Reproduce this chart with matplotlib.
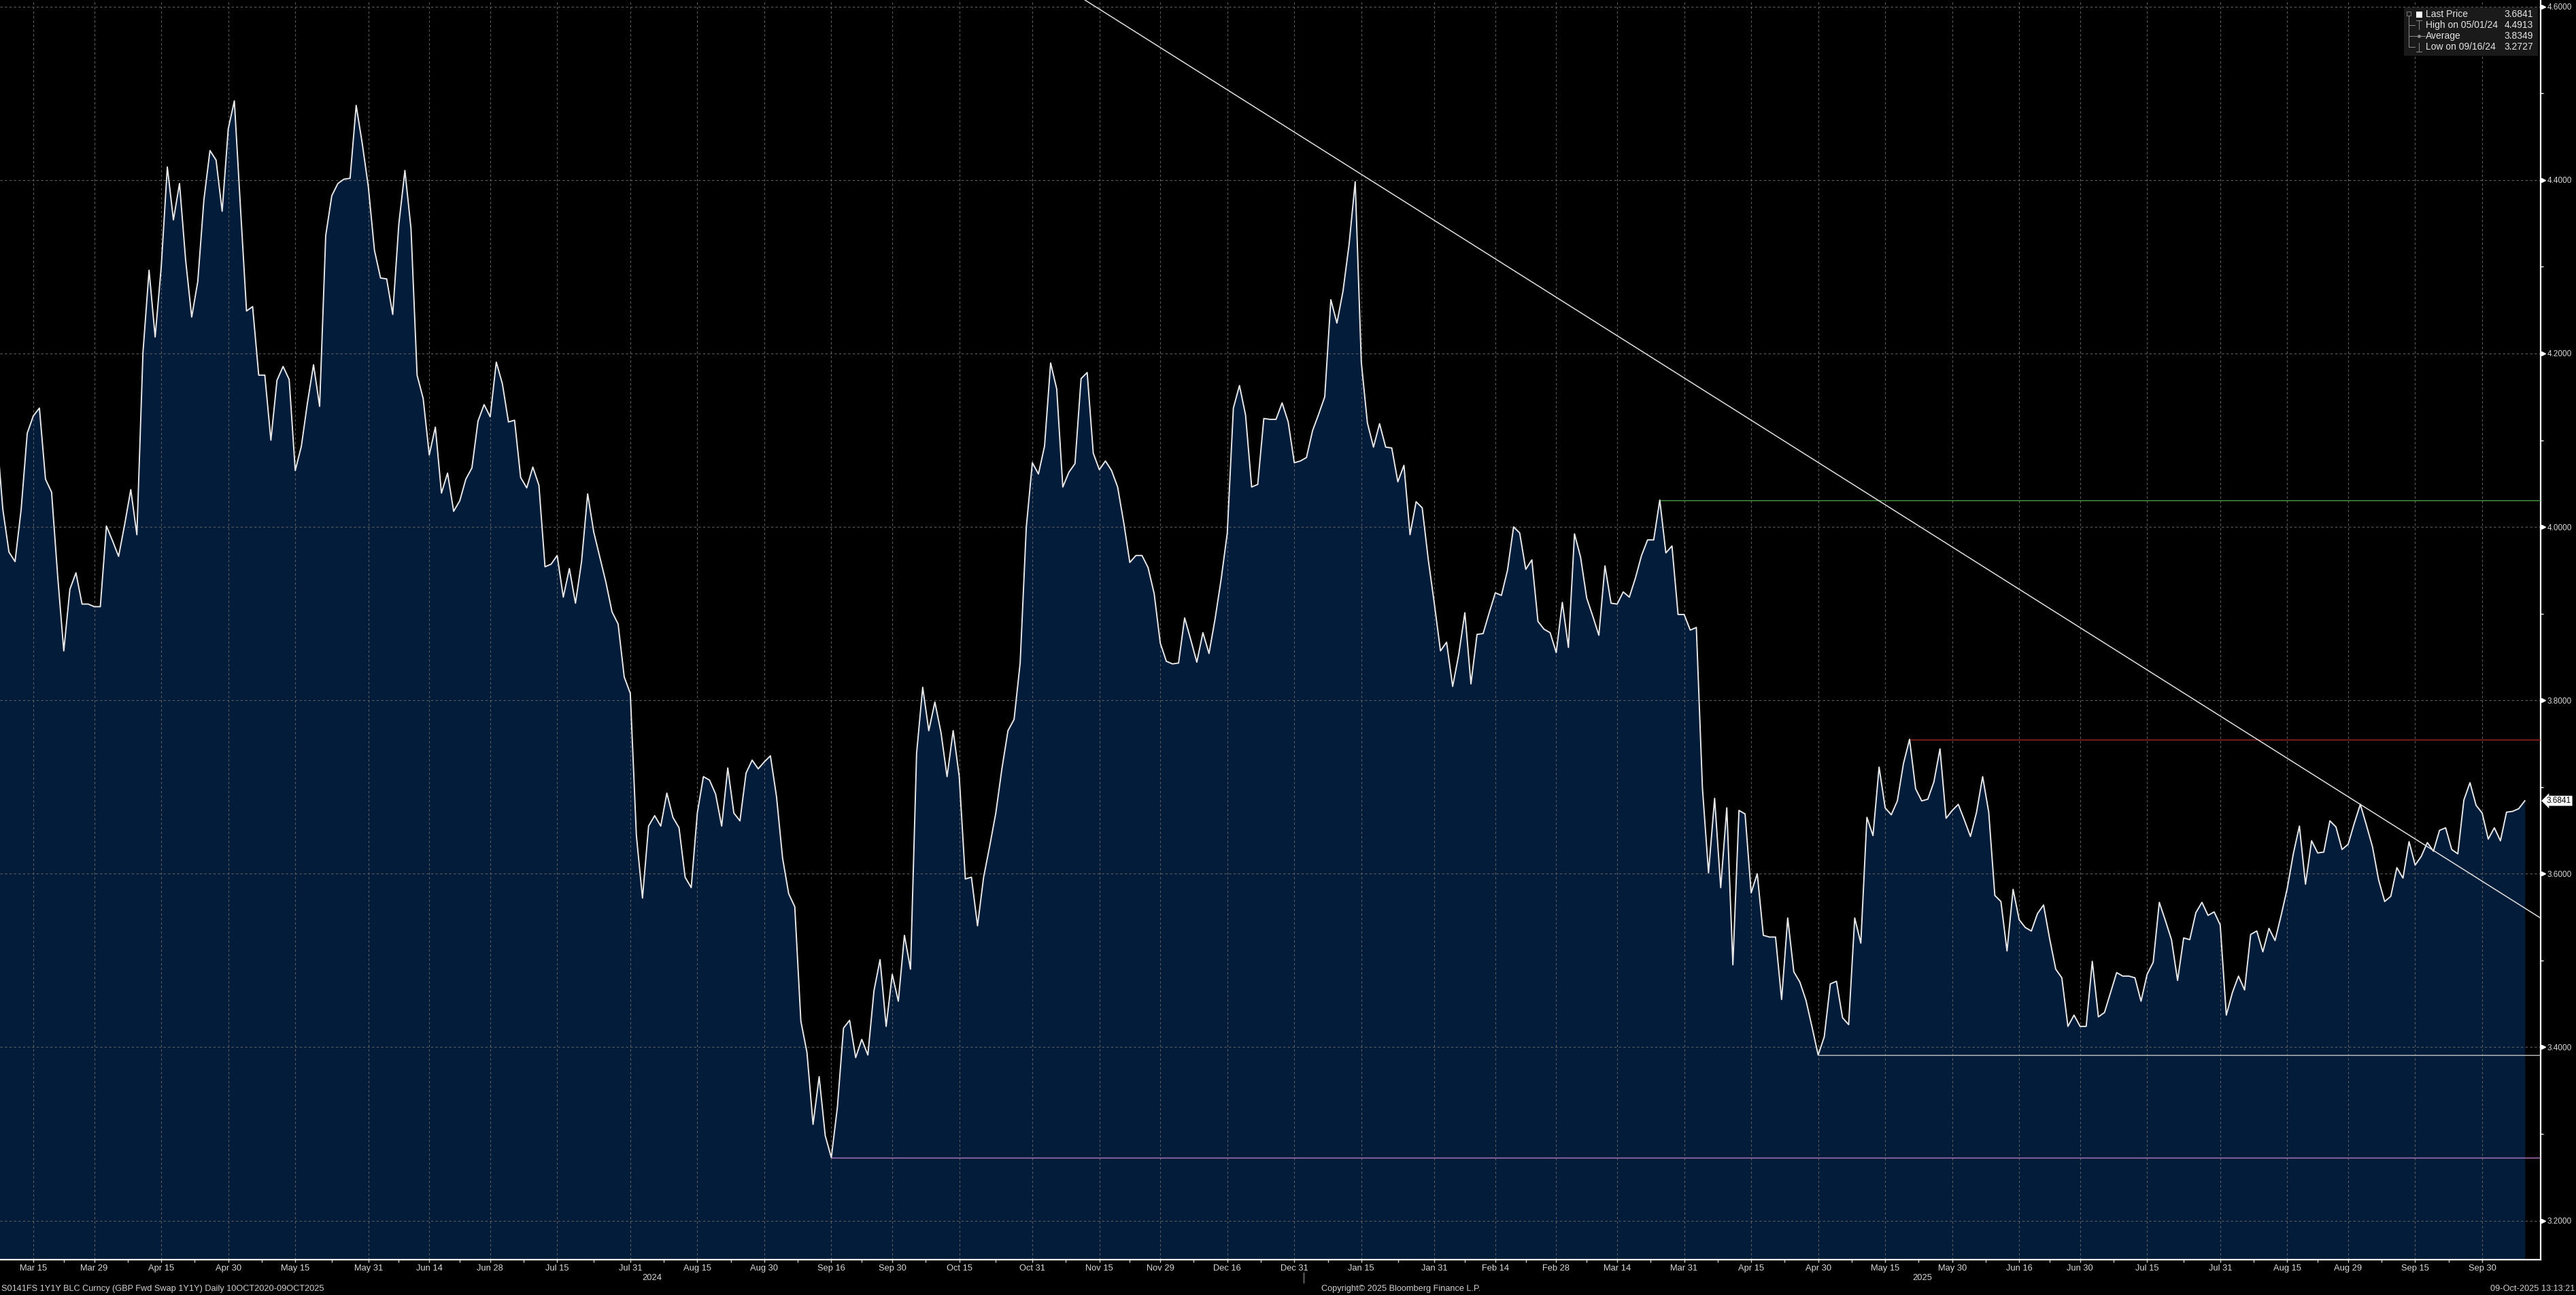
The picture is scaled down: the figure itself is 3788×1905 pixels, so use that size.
import numpy as np
import pandas as pd
import matplotlib
matplotlib.use('Agg')
import matplotlib.pyplot as plt
import matplotlib.transforms as mtransforms
from matplotlib.patches import Rectangle
from matplotlib.lines import Line2D

plt.rcParams['font.family'] = ['Liberation Sans', 'DejaVu Sans']

# GBP 1Y1Y forward swap, daily (business days) 07-Mar-2024 .. 09-Oct-2025
dates = pd.bdate_range('2024-03-07', '2025-10-09')

rates_mar_jul24 = [
    4.107,
    4.020, 3.971, 3.960, 4.020, 4.108, 4.128, 4.137, 4.055, 4.040, 3.943,
    3.857, 3.928, 3.947, 3.911, 3.911, 3.908, 3.908, 4.001, 3.984, 3.966,
    4.003, 4.043, 3.991, 4.201, 4.296, 4.219, 4.300, 4.415, 4.354, 4.396,
    4.308, 4.242, 4.283, 4.377, 4.434, 4.423, 4.364, 4.459, 4.4913, 4.369,
    4.249, 4.254, 4.175, 4.175, 4.100, 4.169, 4.185, 4.170, 4.065, 4.093,
    4.143, 4.187, 4.139, 4.336, 4.382, 4.396, 4.401, 4.402, 4.486, 4.442,
    4.392, 4.319, 4.287, 4.286, 4.245, 4.349, 4.411, 4.344, 4.175, 4.148,
    4.083, 4.115, 4.039, 4.062, 4.018, 4.030, 4.055, 4.068, 4.122, 4.141,
    4.127, 4.190, 4.165, 4.121, 4.123,
]
rates_jul_oct24 = [
    4.057, 4.045, 4.069, 4.048, 3.954,
    3.957, 3.967, 3.919, 3.952, 3.912, 3.960, 4.038, 3.994, 3.965, 3.936,
    3.902, 3.888, 3.827, 3.808, 3.644, 3.572, 3.655, 3.667, 3.655, 3.693,
    3.665, 3.653, 3.596, 3.584, 3.670, 3.712, 3.708, 3.692, 3.655, 3.722,
    3.670, 3.661, 3.716, 3.731, 3.721, 3.729, 3.736, 3.689, 3.618, 3.577,
    3.562, 3.430, 3.394, 3.311, 3.366, 3.298, 3.2727, 3.331, 3.422, 3.431,
    3.388, 3.409, 3.391, 3.465, 3.501, 3.424, 3.484, 3.453, 3.529, 3.490,
    3.739, 3.815, 3.765, 3.798, 3.763, 3.712, 3.765, 3.712, 3.594, 3.596,
    3.540, 3.596, 3.632, 3.670, 3.721, 3.765, 3.778, 3.843,
]
rates_oct24_feb25 = [
    3.999, 4.074,
    4.061, 4.093, 4.189, 4.159, 4.046, 4.063, 4.073, 4.171, 4.178, 4.085,
    4.066, 4.076, 4.065, 4.046, 4.005, 3.959, 3.967, 3.967, 3.953, 3.923,
    3.866, 3.845, 3.842, 3.843, 3.895, 3.870, 3.844, 3.878, 3.854, 3.894,
    3.940, 3.993, 4.137, 4.163, 4.129, 4.046, 4.049, 4.125, 4.124, 4.124,
    4.143, 4.121, 4.074, 4.076, 4.080, 4.111, 4.130, 4.150, 4.262, 4.235,
    4.272, 4.326, 4.398, 4.190, 4.120, 4.092, 4.119, 4.092, 4.091, 4.052,
    4.071, 3.991, 4.029, 4.022, 3.962, 3.911, 3.857, 3.867, 3.816, 3.853,
    3.901, 3.819, 3.876, 3.877, 3.901, 3.924, 3.921, 3.950, 4.000, 3.993,
    3.951, 3.962,
]
rates_feb_jun25 = [
    3.891, 3.882, 3.878, 3.855, 3.913, 3.861, 3.992, 3.965,
    3.918, 3.897, 3.875, 3.955, 3.912, 3.911, 3.925, 3.919, 3.941, 3.967,
    3.985, 3.985, 4.031, 3.970, 3.978, 3.899, 3.899, 3.881, 3.884, 3.699,
    3.601, 3.687, 3.584, 3.676, 3.495, 3.673, 3.669, 3.578, 3.600, 3.529,
    3.527, 3.527, 3.455, 3.549, 3.487, 3.475, 3.454, 3.423, 3.391, 3.412,
    3.473, 3.476, 3.434, 3.426, 3.549, 3.520, 3.665, 3.644, 3.723, 3.676,
    3.668, 3.684, 3.727, 3.755, 3.698, 3.684, 3.686, 3.706, 3.744, 3.664,
    3.673, 3.680, 3.662, 3.643, 3.671, 3.712, 3.671, 3.575, 3.568, 3.511,
    3.582, 3.547, 3.538, 3.534, 3.554, 3.564,
]
rates_jun_oct25 = [
    3.525, 3.490, 3.480, 3.424,
    3.437, 3.424, 3.424, 3.499, 3.435, 3.440, 3.463, 3.486, 3.482, 3.482,
    3.480, 3.453, 3.484, 3.498, 3.567, 3.546, 3.524, 3.477, 3.526, 3.524,
    3.555, 3.567, 3.552, 3.556, 3.541, 3.437, 3.463, 3.482, 3.466, 3.530,
    3.534, 3.510, 3.537, 3.523, 3.552, 3.583, 3.623, 3.655, 3.588, 3.638,
    3.624, 3.625, 3.661, 3.654, 3.628, 3.634, 3.658, 3.680, 3.656, 3.631,
    3.593, 3.568, 3.574, 3.607, 3.595, 3.637, 3.610, 3.620, 3.636, 3.626,
    3.650, 3.653, 3.628, 3.623, 3.685, 3.705, 3.679, 3.670, 3.640, 3.653,
    3.638, 3.671, 3.672, 3.675, 3.6841,
]
rates = np.array(rates_mar_jul24 + rates_jul_oct24 + rates_oct24_feb25
                 + rates_feb_jun25 + rates_jun_oct25)

tick_dates = ['2024-03-15', '2024-03-29', '2024-04-15', '2024-04-30', '2024-05-15',
              '2024-05-31', '2024-06-14', '2024-06-28', '2024-07-15', '2024-07-31',
              '2024-08-15', '2024-08-30', '2024-09-16', '2024-09-30', '2024-10-15',
              '2024-10-31', '2024-11-15', '2024-11-29', '2024-12-16', '2024-12-31',
              '2025-01-15', '2025-01-31', '2025-02-14', '2025-02-28', '2025-03-14',
              '2025-03-31', '2025-04-15', '2025-04-30', '2025-05-15', '2025-05-30',
              '2025-06-16', '2025-06-30', '2025-07-15', '2025-07-31', '2025-08-15',
              '2025-08-29', '2025-09-15', '2025-09-30']
y_major = [3.2, 3.4, 3.6, 3.8, 4.0, 4.2, 4.4, 4.6]
y_minor = [3.3, 3.5, 3.7, 3.9, 4.1, 4.3, 4.5]

# horizontal levels drawn from a given day to the right edge
level_dates = ['2024-09-16', '2025-03-25', '2025-04-30', '2025-05-21']
level_colors = ['#b47cc6', '#4a9e4a', '#c4c4c4', '#a82828']

# downward trend line anchors
trend_dates = ['2025-01-14', '2025-09-02']
trend_values = [4.411, 3.680]

legend_rows = [('Last Price', '3.6841'), ('High on 05/01/24', '4.4913'),
               ('Average', '3.8349'), ('Low on 09/16/24', '3.2727')]

W, H = 3788, 1905
def fx(px):
    return px / W
def fy(py):
    return 1 - py / H

x = np.arange(len(dates))
def pos(d):
    return dates.get_loc(pd.Timestamp(d))

fig = plt.figure(figsize=(W / 100, H / 100), dpi=100)
fig.patch.set_facecolor('black')
ax = fig.add_axes([0, 52 / H, 3736 / W, 1853 / H])
ax.set_facecolor('black')
xmax = 417.6
ax.set_xlim(0.53, xmax)
ax.set_ylim(3.155, 4.6076)

grid_kw = dict(color='#5e5e5e', lw=0.8, ls=(0, (3, 3)), zorder=2)
tick_x = [pos(d) for d in tick_dates]
for t in tick_x:
    ax.axvline(t, **grid_kw)
for v in y_major:
    ax.axhline(v, **grid_kw)

ax.fill_between(x, rates, 3.0, color='#021c3a', lw=0, zorder=1)
ax.plot(x, rates, color='#e8e8e8', lw=1.4, zorder=5)

for d, c in zip(level_dates, level_colors):
    i = pos(d)
    ax.hlines(rates[i], i, xmax, color=c, lw=1.0, zorder=4)

ax.axline((pos(trend_dates[0]), trend_values[0]), (pos(trend_dates[1]), trend_values[1]),
          color='#e0e0e0', lw=1.1, zorder=6)

for s in ['top', 'left']:
    ax.spines[s].set_visible(False)
for s in ['right', 'bottom']:
    ax.spines[s].set_color('white')
    ax.spines[s].set_linewidth(1.6)

# y axis on the right
ax.yaxis.tick_right()
ax.set_yticks(y_major)
ax.set_yticklabels([f'{v:.4f}' for v in y_major])
ax.set_yticks(y_minor, minor=True)
ax.tick_params(axis='y', which='major', length=0, pad=7, labelsize=8.5, labelcolor='#d8d8d8')
ax.tick_params(axis='y', which='minor', length=3, width=1, color='white')
tri = mtransforms.offset_copy(ax.get_yaxis_transform(), fig=fig, x=4, units='dots')
ax.plot(np.ones(len(y_major)), y_major, ls='none', marker='>', ms=4.5, color='white',
        transform=tri, clip_on=False, zorder=7)

# x axis
ax.set_xticks(tick_x)
ax.set_xticklabels([pd.Timestamp(d).strftime('%b %d') for d in tick_dates])
mid = [(a + b) / 2 for a, b in zip(tick_x[:-1], tick_x[1:])]
ax.set_xticks(mid, minor=True)
ax.tick_params(axis='x', which='both', length=3, width=1, color='#cfcfcf', pad=2,
               labelsize=9.3, labelcolor='#d8d8d8')

# year labels and separator
jan1 = pos('2025-01-02') - 0.5
for label, xc in [('2024', (ax.get_xlim()[0] + jan1) / 2), ('2025', (jan1 + xmax) / 2)]:
    ax.annotate(label, xy=(xc, 0), xycoords=('data', 'axes fraction'), xytext=(0, -27),
                textcoords='offset pixels', ha='center', va='center', fontsize=9.3,
                color='#d8d8d8', annotation_clip=False)
ax.plot([jan1, jan1], [-19 / 1853, -34 / 1853], transform=ax.get_xaxis_transform(),
        color='#9a9a9a', lw=0.8, clip_on=False)

# last price tag
ax.annotate('3.6841', xy=(1, rates[-1]), xycoords=ax.get_yaxis_transform(),
            xytext=(9, 0), textcoords='offset pixels', ha='left', va='center',
            fontsize=8.5, color='black', annotation_clip=False, zorder=8,
            bbox=dict(boxstyle='larrow,pad=0.12', fc='white', ec='none'))

# legend box (top right)
fig.add_artist(Rectangle((fx(3535), fy(82)), fx(3732) - fx(3535), (82 - 11) / H,
                         transform=fig.transFigure, fc='#1a1a1a', ec='none', zorder=10))
row_y = [21, 37, 53, 69]
for (name, val), ry in zip(legend_rows, row_y):
    fig.text(fx(3567), fy(ry), name, ha='left', va='center', fontsize=10,
             color='#e6e6e6', zorder=11)
    fig.text(fx(3725), fy(ry), val, ha='right', va='center', fontsize=10,
             color='#e6e6e6', zorder=11)
fig.add_artist(Rectangle((fx(3553), fy(26)), 9 / W, 9 / H, transform=fig.transFigure,
                         fc='white', ec='none', zorder=11))
fig.add_artist(Rectangle((fx(3539), fy(23)), 6 / W, 6 / H, transform=fig.transFigure,
                         fc='none', ec='#8a8a8a', lw=0.6, zorder=11))
tree = [([3542, 3542], [23, 69]), ([3542, 3551], [37, 37]), ([3542, 3549], [53, 53]),
        ([3542, 3551], [69, 69]), ([3553, 3561], [30, 30]), ([3557, 3557], [30, 43]),
        ([3548, 3566], [53, 53]), ([3557, 3557], [63, 76]), ([3553, 3561], [76, 76])]
for xs, ys in tree:
    fig.add_artist(Line2D([fx(v) for v in xs], [fy(v) for v in ys], transform=fig.transFigure,
                          color='#8a8a8a', lw=0.7, zorder=11))
fig.add_artist(Line2D([fx(3557)], [fy(53)], marker='o', ms=2.5, color='#8a8a8a',
                      transform=fig.transFigure, zorder=11))

# footer
foot = dict(fontsize=9.2, color='#cfcfcf', va='center')
fig.text(fx(2), fy(1896), 'S0141FS 1Y1Y BLC Curncy (GBP Fwd Swap 1Y1Y) Daily 10OCT2020-09OCT2025',
         ha='left', **foot)
fig.text(fx(2060), fy(1896), 'Copyright\u00a9 2025 Bloomberg Finance L.P.', ha='center', **foot)
fig.text(fx(3786), fy(1896), '09-Oct-2025 13:13:21', ha='right', **foot)

fig.savefig('out.png', dpi=100, facecolor='black')
